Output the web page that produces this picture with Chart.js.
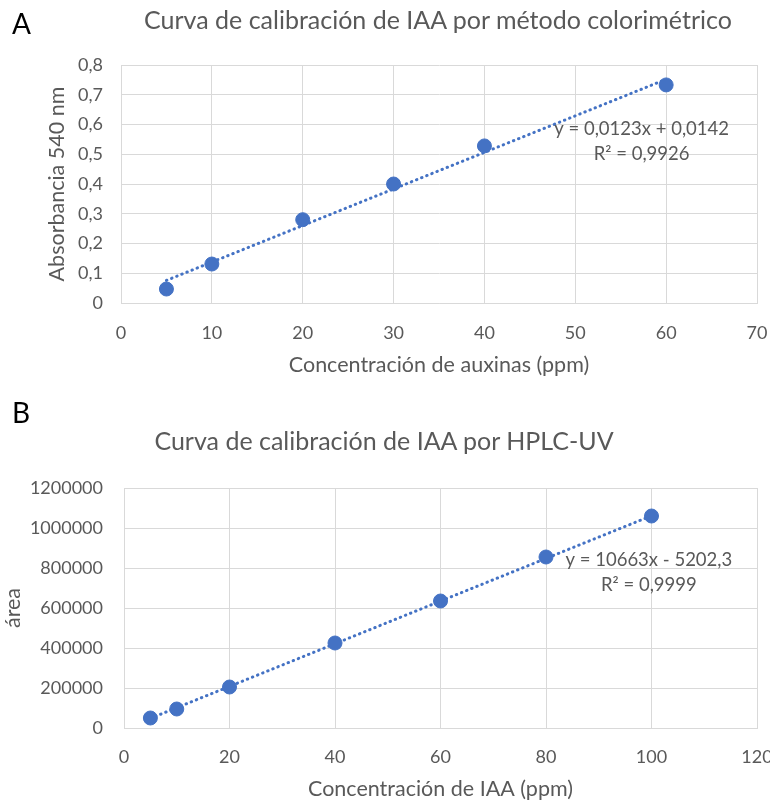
<!DOCTYPE html>
<html lang="es">
<head>
  <meta charset="UTF-8">
  <title>Curvas de calibración de IAA</title>
  <script src="https://cdn.jsdelivr.net/npm/chart.js"></script>
  <style>
    body {
      margin: 0;
      background: #ffffff;
      font-family: Lato, sans-serif;
    }
    .panel {
      position: absolute;
      left: 0;
      width: 770px;
    }
    #panelA { top: 0; height: 390px; }
    #panelB { top: 400px; height: 403px; }
    .letra {
      position: absolute;
      left: 12px;
      font-size: 28px;
      color: #000;
      line-height: 1;
    }
    .titulo {
      position: absolute;
      transform: translateX(-50%);
      white-space: nowrap;
      font-size: 25px;
      line-height: 30px;
      color: #595959;
    }
  </style>
</head>
<body>

  <div class="panel" id="panelA"><canvas id="graficoA"></canvas></div>
  <div class="panel" id="panelB"><canvas id="graficoB"></canvas></div>
  <div class="letra" style="top:9px">A</div>
  <div class="letra" style="top:398px">B</div>
  <div class="titulo" style="left:438px; top:4px">Curva de calibración de IAA por método colorimétrico</div>
  <div class="titulo" style="left:384px; top:425px">Curva de calibración de IAA por HPLC-UV</div>

  <script>
    // Curva A: método colorimétrico
    const concA = [5, 10, 20, 30, 40, 60];
    const absA = [0.047, 0.131, 0.28, 0.40, 0.528, 0.733];
    const tendenciaA = [{ x: 5, y: 0.076 }, { x: 60, y: 0.752 }];
    const ecuacionA = ['y = 0,0123x + 0,0142', 'R² = 0,9926'];

    // Curva B: HPLC-UV
    const concB = [5, 10, 20, 40, 60, 80, 100];
    const areaB = [50000, 95000, 205000, 425000, 635000, 855000, 1060000];
    const tendenciaB = [{ x: 5, y: 48100 }, { x: 100, y: 1061100 }];
    const ecuacionB = ['y = 10663x - 5202,3', 'R² = 0,9999'];

    const azul = '#4472C4';
    const gris = '#595959';
    const rejilla = '#d9d9d9';

    // texto de la ecuación en coordenadas de datos
    const ecuacionPlugin = {
      id: 'ecuacion',
      afterDatasetsDraw(chart, args, opts) {
        const { ctx, scales } = chart;
        const px = scales.x.getPixelForValue(opts.x);
        ctx.save();
        ctx.font = '18.5px Lato';
        ctx.fillStyle = gris;
        ctx.textAlign = 'center';
        ctx.textBaseline = 'middle';
        opts.lineas.forEach((t, i) => {
          ctx.fillText(t, px, scales.y.getPixelForValue(opts.y[i]));
        });
        ctx.restore();
      }
    };

    function crearGrafico(id, cfg) {
      const puntos = cfg.xs.map((x, i) => ({ x: x, y: cfg.ys[i] }));
      return new Chart(document.getElementById(id), {
        type: 'scatter',
        data: {
          datasets: [
            {
              data: puntos,
              backgroundColor: azul,
              borderColor: azul,
              pointRadius: 7,
              pointHoverRadius: 7
            },
            {
              type: 'line',
              data: cfg.tendencia,
              borderColor: azul,
              borderWidth: 3,
              borderDash: [0.5, 5],
              borderCapStyle: 'round',
              pointRadius: 0,
              fill: false
            }
          ]
        },
        options: {
          responsive: true,
          maintainAspectRatio: false,
          animation: false,
          layout: { padding: { left: 0, right: 13, top: cfg.padTop, bottom: 0 } },
          plugins: {
            legend: { display: false },
            tooltip: { enabled: false },
            ecuacion: cfg.ecuacion
          },
          scales: {
            x: {
              type: 'linear',
              min: 0,
              max: cfg.xMax,
              afterFit: s => {
                s.height = cfg.xAlto;
                s.paddingLeft = 0;
                s.paddingRight = 0;
              },
              ticks: {
                stepSize: cfg.xPaso,
                color: gris,
                padding: cfg.xTickPad,
                font: { family: 'Lato', size: 18 }
              },
              grid: { color: rejilla, drawTicks: false },
              border: { color: rejilla },
              title: {
                display: true,
                text: cfg.xTitulo,
                color: gris,
                font: { family: 'Lato', size: 21.5 },
                padding: { top: 0, bottom: cfg.xTitPad }
              }
            },
            y: {
              min: 0,
              max: cfg.yMax,
              afterFit: s => {
                s.width = cfg.yAncho;
                s.paddingTop = 0;
                s.paddingBottom = 0;
              },
              ticks: {
                stepSize: cfg.yPaso,
                color: gris,
                padding: cfg.yTickPad,
                font: { family: 'Lato', size: 18 },
                callback: cfg.formato
              },
              grid: { color: rejilla, drawTicks: false },
              border: { color: rejilla },
              title: {
                display: true,
                text: cfg.yTitulo,
                color: gris,
                font: { family: 'Lato', size: 21.5 },
                padding: { top: cfg.yTitPad, bottom: 0 }
              }
            }
          }
        },
        plugins: [ecuacionPlugin]
      });
    }

    crearGrafico('graficoA', {
      xs: concA, ys: absA, tendencia: tendenciaA,
      padTop: 65,
      xMax: 70, xPaso: 10, xAlto: 87, xTickPad: 19, xTitPad: 12,
      xTitulo: 'Concentración de auxinas (ppm)',
      yMax: 0.8, yPaso: 0.1, yAncho: 121, yTickPad: 18, yTitPad: 44,
      yTitulo: 'Absorbancia 540 nm',
      formato: v => v === 0 ? '0' : v.toFixed(1).replace('.', ','),
      ecuacion: { lineas: ecuacionA, x: 57.3, y: [0.585, 0.501] }
    });

    crearGrafico('graficoB', {
      xs: concB, ys: areaB, tendencia: tendenciaB,
      padTop: 88,
      xMax: 120, xPaso: 20, xAlto: 75, xTickPad: 18, xTitPad: 1,
      xTitulo: 'Concentración de IAA (ppm)',
      yMax: 1200000, yPaso: 200000, yAncho: 124, yTickPad: 21, yTitPad: 0,
      yTitulo: 'área',
      formato: v => String(v),
      ecuacion: { lineas: ecuacionB, x: 99.5, y: [840000, 715000] }
    });
  </script>

</body>
</html>
